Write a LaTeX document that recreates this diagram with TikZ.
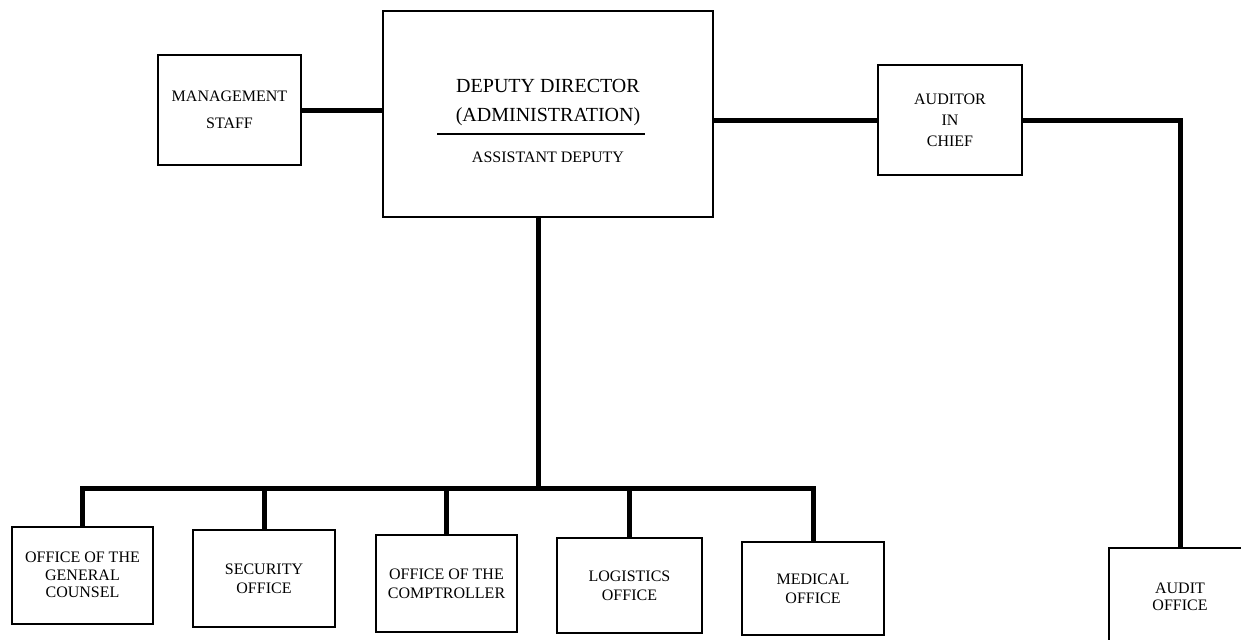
\documentclass[tikz,border=0pt]{standalone}
\usepackage{fontspec}
\setmainfont{Liberation Serif}
\begin{document}
\begin{tikzpicture}[x=0.5pt,y=-0.5pt,
  box/.style={draw=black, line width=1pt, inner sep=0pt, align=center,
    font=\fontsize{8}{9.5}\selectfont, minimum width=71pt, minimum height=48.5pt},
  conn/.style={line width=2.5pt}]
\clip (0,0) rectangle (1241,639);
\fill[white] (0,0) rectangle (1241,639);
% top row
\node[box, minimum width=71.5pt, minimum height=55pt, font=\fontsize{8}{13.5}\selectfont] (ms) at (229.5,110) {MANAGEMENT\\STAFF};
\node[box, minimum width=165pt, minimum height=103pt, font=\fontsize{10}{14.5}\selectfont] (dd) at (548,114)
  {\rule{0pt}{13.4pt}DEPUTY DIRECTOR\\(ADMINISTRATION)\\[5.85pt]{\fontsize{8}{14.5}\selectfont ASSISTANT DEPUTY}};
\node[box, minimum width=72pt, minimum height=55pt, font=\fontsize{8}{10.5}\selectfont] (aic) at (950,120) {AUDITOR\\IN\\CHIEF};
% bottom row
\node[box, minimum width=70.5pt, font=\fontsize{8}{8.75}\selectfont] (gc) at (82.5,575) {OFFICE OF THE\\GENERAL\\COUNSEL};
\node[box] (sec) at (264,578.5) {SECURITY\\OFFICE};
\node[box, minimum width=70.5pt] (comp) at (446.5,583.5) {OFFICE OF THE\\COMPTROLLER};
\node[box, minimum width=72.5pt, minimum height=47.5pt] (log) at (629.5,585.5) {LOGISTICS\\OFFICE};
\node[box, minimum height=46.5pt] (med) at (813,588.5) {MEDICAL\\OFFICE};
\node[box, font=\fontsize{8}{8.5}\selectfont] (ao) at (1180,596.5) {AUDIT\\OFFICE};
% underline in deputy box
\draw[line width=1.4pt] ([xshift=-55.5pt,yshift=-10pt]dd.center) -- ([xshift=48.5pt,yshift=-10pt]dd.center);
% connectors
\coordinate (bus) at (538,488);
\draw[conn] (ms.east) -- (ms.east -| dd.west);
\draw[conn] (aic.west -| dd.east) -- (aic.west);
\draw[conn] (aic.east) -| (ao.north);
\draw[conn] ([xshift=-5pt]dd.south) -- (bus);
\draw[conn] (gc.north) |- (bus) -| (med.north);
\foreach \n in {sec,comp,log} \draw[conn] (\n.north) -- (\n.north |- bus);
\end{tikzpicture}
\end{document}
